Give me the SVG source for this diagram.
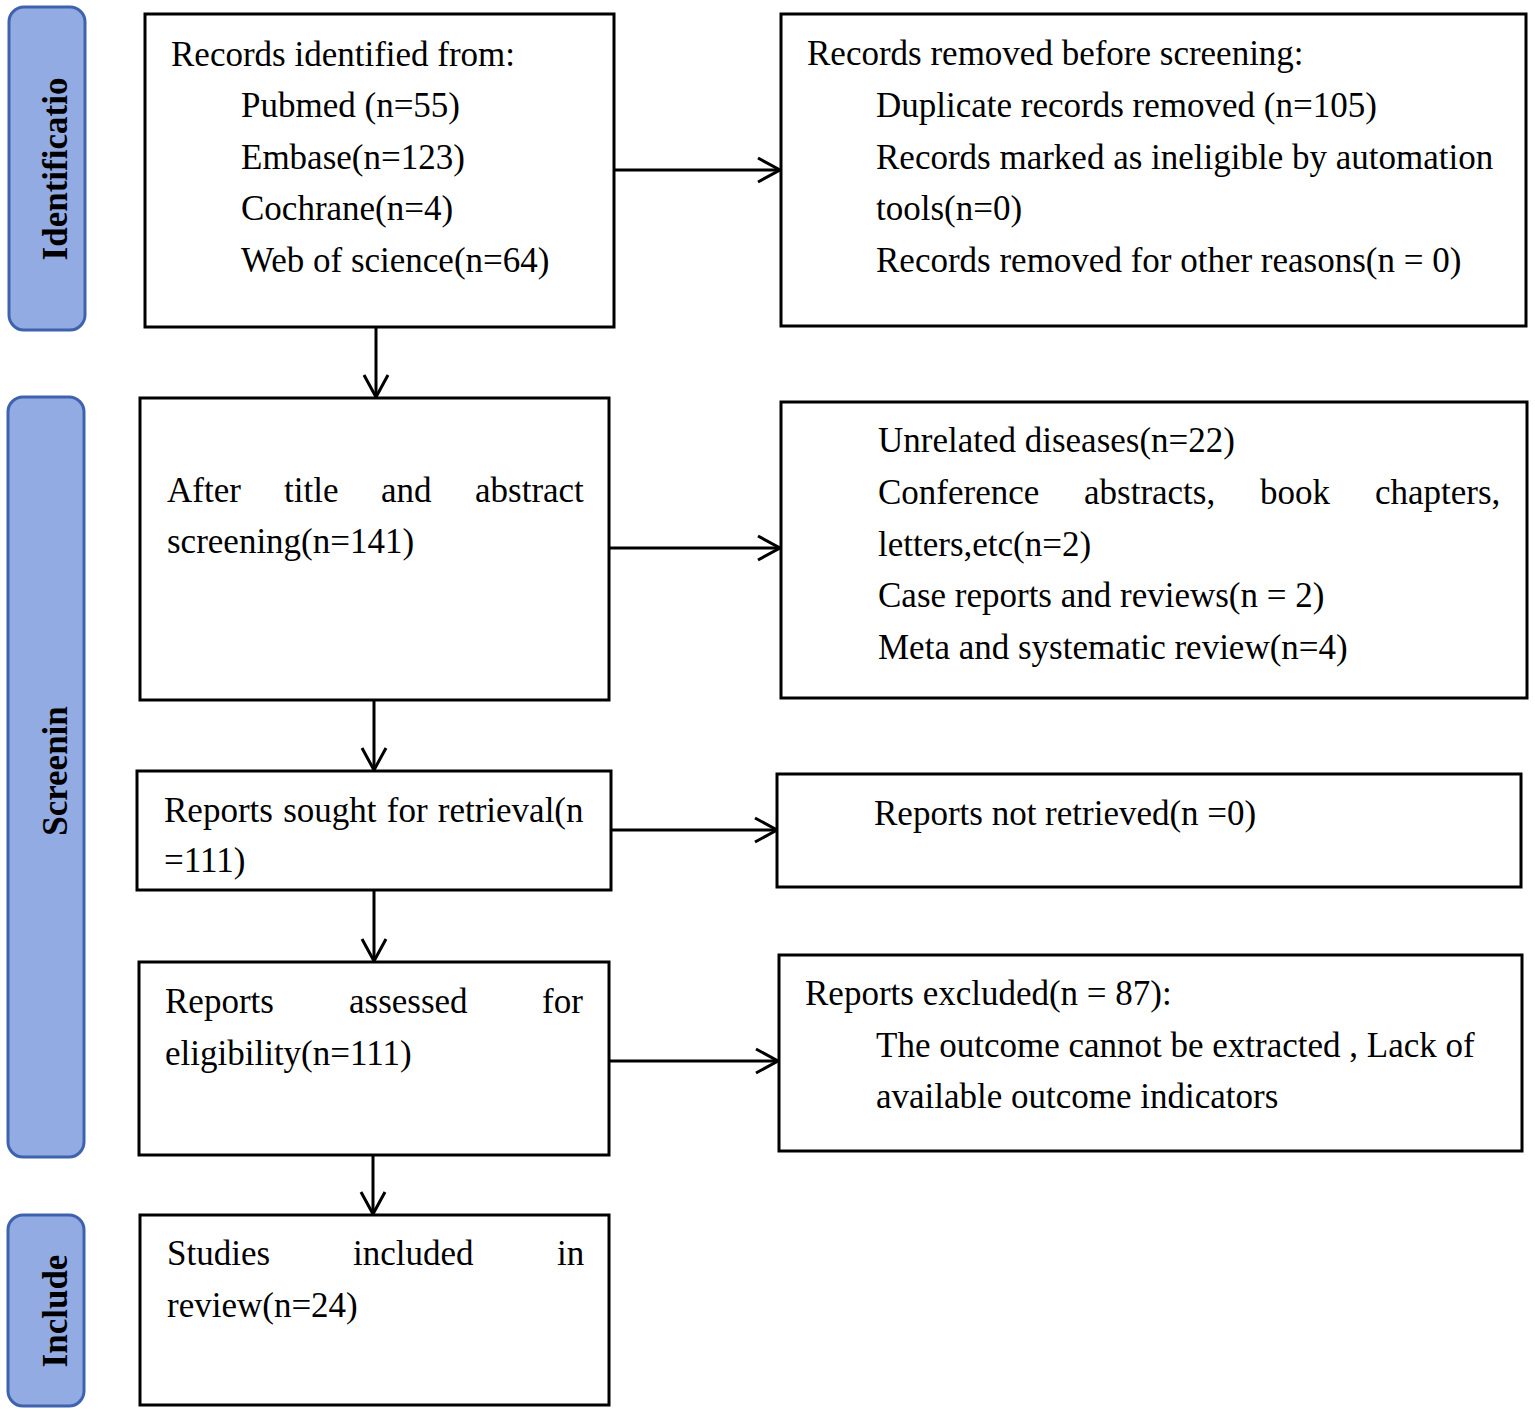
<svg xmlns="http://www.w3.org/2000/svg" width="1535" height="1415" viewBox="0 0 1535 1415">
<style>
.box{fill:#fff;stroke:#000;stroke-width:3}
.side{fill:#92ABE3;stroke:#3F62AE;stroke-width:3}
.t{font-family:"Liberation Serif","Times New Roman",serif;font-size:35px;fill:#000}
.e{text-anchor:end}
.s{font-family:"Liberation Serif","Times New Roman",serif;font-size:35px;font-weight:bold;fill:#000;text-anchor:middle}
.c{stroke:#000;stroke-width:3;fill:none}
</style>
<defs>
<marker id="ah" markerUnits="userSpaceOnUse" markerWidth="30" markerHeight="30" viewBox="-25 -15 30 30" refX="0" refY="0" orient="auto">
<path d="M-22,-12 L0,0 L-22,12" fill="none" stroke="#000" stroke-width="3"/>
</marker>
</defs>
<rect width="1535" height="1415" fill="#fff"/>

<g id="phase-identification">
<rect class="side" x="9" y="7" width="76" height="323" rx="15"/>
<text class="s" transform="translate(67,169) rotate(-90)">Identificatio</text>
</g>
<g id="phase-screening">
<rect class="side" x="8" y="397" width="76" height="760" rx="15"/>
<text class="s" transform="translate(67,771) rotate(-90)">Screenin</text>
</g>
<g id="phase-include">
<rect class="side" x="8" y="1215" width="76" height="191" rx="15"/>
<text class="s" transform="translate(67,1311) rotate(-90)">Include</text>
</g>

<g id="connectors">
<line class="c" x1="614" y1="170" x2="780" y2="170" marker-end="url(#ah)"/>
<line class="c" x1="609" y1="548" x2="780" y2="548" marker-end="url(#ah)"/>
<line class="c" x1="611" y1="830" x2="777" y2="830" marker-end="url(#ah)"/>
<line class="c" x1="609" y1="1061" x2="778" y2="1061" marker-end="url(#ah)"/>
<line class="c" x1="376" y1="327" x2="376" y2="397" marker-end="url(#ah)"/>
<line class="c" x1="374" y1="700" x2="374" y2="770" marker-end="url(#ah)"/>
<line class="c" x1="374" y1="890" x2="374" y2="961" marker-end="url(#ah)"/>
<line class="c" x1="373" y1="1155" x2="373" y2="1214" marker-end="url(#ah)"/>
</g>

<g id="records-identified">
<rect class="box" x="145" y="14" width="469" height="313"/>
<text class="t" x="171" y="66">Records identified from:</text>
<text class="t" x="241" y="117">Pubmed (n=55)</text>
<text class="t" x="241" y="169">Embase(n=123)</text>
<text class="t" x="241" y="220">Cochrane(n=4)</text>
<text class="t" x="241" y="272">Web of science(n=64)</text>
</g>

<g id="records-removed">
<rect class="box" x="781" y="14" width="745" height="312"/>
<text class="t" x="807" y="65">Records removed before screening:</text>
<text class="t" x="876" y="117">Duplicate records removed (n=105)</text>
<text class="t" x="876" y="169">Records marked as ineligible by automation</text>
<text class="t" x="876" y="220">tools(n=0)</text>
<text class="t" x="876" y="272">Records removed for other reasons(n = 0)</text>
</g>

<g id="title-abstract">
<rect class="box" x="140" y="398" width="469" height="302"/>
<text class="t" y="502"><tspan x="167">After</tspan><tspan x="284">title</tspan><tspan x="381">and</tspan><tspan x="475">abstract</tspan></text>
<text class="t" x="167" y="553">screening(n=141)</text>
</g>

<g id="excluded-screening">
<rect class="box" x="781" y="402" width="746" height="296"/>
<text class="t" x="878" y="452">Unrelated diseases(n=22)</text>
<text class="t" y="504"><tspan x="878">Conference</tspan><tspan x="1084">abstracts,</tspan><tspan x="1260">book</tspan><tspan x="1375">chapters,</tspan></text>
<text class="t" x="878" y="556">letters,etc(n=2)</text>
<text class="t" x="878" y="607">Case reports and reviews(n = 2)</text>
<text class="t" x="878" y="659">Meta and systematic review(n=4)</text>
</g>

<g id="sought-retrieval">
<rect class="box" x="137" y="771" width="474" height="119"/>
<text class="t" x="164" y="822" word-spacing="1.5">Reports sought for retrieval(n</text>
<text class="t" x="164" y="872">=111)</text>
</g>

<g id="not-retrieved">
<rect class="box" x="777" y="774" width="744" height="113"/>
<text class="t" x="874" y="825">Reports not retrieved(n =0)</text>
</g>

<g id="assessed">
<rect class="box" x="139" y="962" width="470" height="193"/>
<text class="t" y="1013"><tspan x="165">Reports</tspan><tspan x="349">assessed</tspan><tspan x="542">for</tspan></text>
<text class="t" x="165" y="1065">eligibility(n=111)</text>
</g>

<g id="reports-excluded">
<rect class="box" x="779" y="955" width="743" height="196"/>
<text class="t" x="805" y="1005">Reports excluded(n = 87):</text>
<text class="t" x="876" y="1057">The outcome cannot be extracted , Lack of</text>
<text class="t" x="876" y="1108">available outcome indicators</text>
</g>

<g id="included">
<rect class="box" x="140" y="1215" width="469" height="190"/>
<text class="t" y="1265"><tspan x="167">Studies</tspan><tspan x="353">included</tspan><tspan x="557">in</tspan></text>
<text class="t" x="167" y="1317">review(n=24)</text>
</g>
</svg>
